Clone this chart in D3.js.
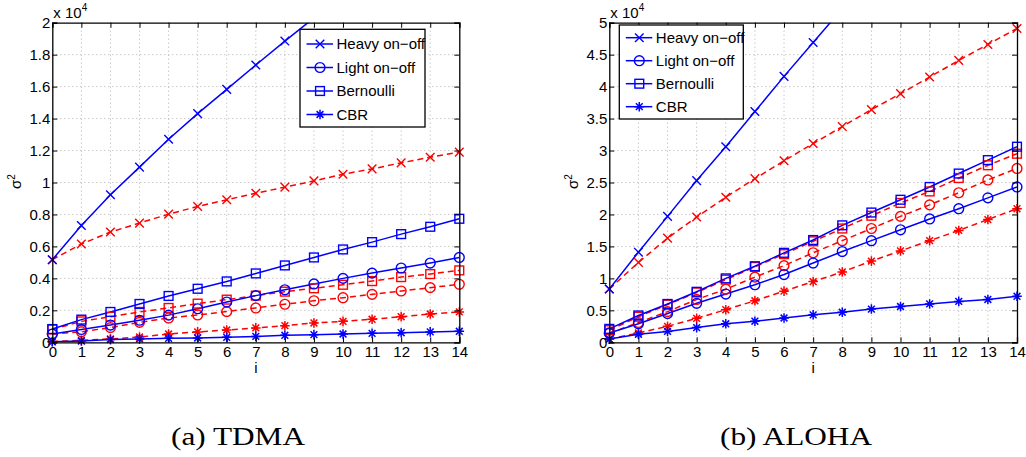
<!DOCTYPE html>
<html>
<head>
<meta charset="utf-8">
<script src="https://cdn.jsdelivr.net/npm/d3@7"></script>
<style>
  body { margin: 0; background: #fff; }
  svg text { font-family: "Liberation Sans", Arial, sans-serif; }
  .grid line { stroke: #b0b0b0; stroke-dasharray: 1,3; }
</style>
</head>
<body>
<div id="chart"></div>
<script>
// x values (i)
const steps = d3.range(0, 15);
const xTicks = d3.range(0, 15);

// (a) TDMA, values in units of 1e4
const tdmaTicks = [0, 0.2, 0.4, 0.6, 0.8, 1, 1.2, 1.4, 1.6, 1.8, 2];
const tdmaHeavy      = [0.517, 0.731, 0.923, 1.096, 1.271, 1.431, 1.583, 1.735, 1.885, 2.03, 2.18, 2.33, 2.48, 2.62, 2.77];
const tdmaHeavyRed   = [0.517, 0.615, 0.690, 0.746, 0.802, 0.850, 0.892, 0.933, 0.971, 1.010, 1.052, 1.085, 1.123, 1.158, 1.190];
const tdmaLight      = [0.052, 0.080, 0.108, 0.138, 0.170, 0.210, 0.252, 0.292, 0.329, 0.365, 0.400, 0.433, 0.465, 0.496, 0.531];
const tdmaLightRed   = [0.052, 0.066, 0.092, 0.125, 0.152, 0.171, 0.192, 0.215, 0.238, 0.260, 0.279, 0.300, 0.321, 0.342, 0.363];
const tdmaBern       = [0.083, 0.142, 0.190, 0.240, 0.290, 0.335, 0.381, 0.431, 0.481, 0.531, 0.581, 0.627, 0.677, 0.723, 0.773];
const tdmaBernRed    = [0.080, 0.131, 0.160, 0.190, 0.215, 0.242, 0.267, 0.292, 0.317, 0.338, 0.360, 0.383, 0.408, 0.427, 0.450];
const tdmaCbr        = [0.003, 0.008, 0.017, 0.021, 0.025, 0.027, 0.031, 0.037, 0.044, 0.048, 0.052, 0.056, 0.060, 0.065, 0.069];
const tdmaCbrRed     = [0.005, 0.012, 0.021, 0.033, 0.052, 0.065, 0.077, 0.090, 0.104, 0.121, 0.131, 0.144, 0.160, 0.177, 0.190];

// (b) ALOHA, values in units of 1e4
const alohaTicks = [0, 0.5, 1, 1.5, 2, 2.5, 3, 3.5, 4, 4.5, 5];
const alohaHeavy     = [0.833, 1.41, 1.97, 2.53, 3.06, 3.61, 4.16, 4.69, 5.22, 5.75, 6.28, 6.80, 7.33, 7.86, 8.39];
const alohaHeavyRed  = [0.833, 1.25, 1.63, 1.96, 2.27, 2.56, 2.84, 3.11, 3.375, 3.64, 3.89, 4.15, 4.41, 4.66, 4.91];
const alohaLight     = [0.146, 0.29, 0.45, 0.61, 0.755, 0.90, 1.06, 1.24, 1.42, 1.59, 1.76, 1.93, 2.09, 2.26, 2.43];
const alohaLightRed  = [0.140, 0.31, 0.48, 0.67, 0.83, 1.02, 1.20, 1.40, 1.59, 1.78, 1.97, 2.15, 2.34, 2.54, 2.72];
const alohaBern      = [0.21, 0.42, 0.60, 0.79, 1.00, 1.19, 1.40, 1.60, 1.83, 2.03, 2.23, 2.43, 2.64, 2.85, 3.06];
const alohaBernRed   = [0.19, 0.40, 0.59, 0.78, 0.98, 1.18, 1.38, 1.58, 1.78, 1.98, 2.18, 2.36, 2.57, 2.77, 2.95];
const alohaCbr       = [0.05, 0.125, 0.17, 0.23, 0.29, 0.33, 0.38, 0.43, 0.47, 0.52, 0.56, 0.60, 0.64, 0.67, 0.72];
const alohaCbrRed    = [0.05, 0.146, 0.25, 0.375, 0.51, 0.65, 0.80, 0.95, 1.10, 1.27, 1.43, 1.59, 1.75, 1.92, 2.09];

const legendNames = ["Heavy on\u2212off", "Light on\u2212off", "Bernoulli", "CBR"];
const markers = ["x", "o", "s", "*"];
const BLUE = "#0000ff", RED = "#ff0000";
const FS = 15;

const W = 1026, H = 457;
const svg = d3.select("#chart").append("svg").attr("width", W).attr("height", H);

function marker(g, type, x, y, color) {
  if (type === "x") {
    const r = 4.3;
    g.append("path").attr("d", `M${x-r},${y-r}L${x+r},${y+r}M${x-r},${y+r}L${x+r},${y-r}`)
      .attr("stroke", color).attr("stroke-width", 1.4).attr("fill", "none");
  } else if (type === "o") {
    g.append("circle").attr("cx", x).attr("cy", y).attr("r", 4.9)
      .attr("stroke", color).attr("stroke-width", 1.4).attr("fill", "none");
  } else if (type === "s") {
    g.append("rect").attr("x", x-4.4).attr("y", y-4.4).attr("width", 8.8).attr("height", 8.8)
      .attr("stroke", color).attr("stroke-width", 1.4).attr("fill", "none");
  } else {
    const r = 4.8;
    let d = "";
    for (let k = 0; k < 4; k++) {
      const a = k * Math.PI / 4;
      d += `M${x - r*Math.cos(a)},${y - r*Math.sin(a)}L${x + r*Math.cos(a)},${y + r*Math.sin(a)}`;
    }
    g.append("path").attr("d", d).attr("stroke", color).attr("stroke-width", 1.5).attr("fill", "none");
  }
}

function panel(o) {
  const { left, right, top, bottom } = o;
  const g = svg.append("g");
  const x = d3.scaleLinear().domain([0, 14]).range([left, right]);
  const y = d3.scaleLinear().domain([0, o.ymax]).range([bottom, top]);

  const clipId = "clip" + o.id;
  svg.append("clipPath").attr("id", clipId).append("rect")
    .attr("x", left).attr("y", top).attr("width", right - left).attr("height", bottom - top);

  // grid
  const grid = g.append("g").attr("class", "grid");
  grid.selectAll(".gx").data(xTicks.slice(1, -1)).enter().append("line")
    .attr("x1", d => x(d)).attr("x2", d => x(d)).attr("y1", top).attr("y2", bottom);
  grid.selectAll(".gy").data(o.ticks.slice(1, -1)).enter().append("line")
    .attr("y1", d => y(d)).attr("y2", d => y(d)).attr("x1", left).attr("x2", right);

  // series: lines clipped to the axes, markers drawn only inside the y range
  const lines = g.append("g").attr("clip-path", `url(#${clipId})`);
  const marks = g.append("g");
  const line = d3.line().x((d, i) => x(steps[i])).y(d => y(d));
  o.series.forEach(s => {
    lines.append("path").datum(s.values).attr("d", line)
      .attr("fill", "none").attr("stroke", s.color).attr("stroke-width", 1.5)
      .attr("stroke-dasharray", s.dashed ? "6,4" : null);
    s.values.forEach((v, i) => {
      if (v <= o.ymax) marker(marks, s.marker, x(steps[i]), y(v), s.color);
    });
  });

  // axes: ticks inward on all four sides
  const tl = 5;
  const ax = g.append("g");
  ax.append("g").attr("transform", `translate(0,${bottom})`)
    .call(d3.axisBottom(x).tickValues(xTicks).tickSize(-tl).tickPadding(4).tickFormat(d3.format("d")));
  ax.append("g").attr("transform", `translate(0,${top})`)
    .call(d3.axisTop(x).tickValues(xTicks).tickSize(-tl).tickFormat(""));
  ax.append("g").attr("transform", `translate(${left},0)`)
    .call(d3.axisLeft(y).tickValues(o.ticks).tickSize(-tl).tickPadding(2).tickFormat(d => d3.format("")(+d.toFixed(1))));
  ax.append("g").attr("transform", `translate(${right},0)`)
    .call(d3.axisRight(y).tickValues(o.ticks).tickSize(-tl).tickFormat(""));
  ax.selectAll("g").attr("font-size", FS).attr("font-family", "Liberation Sans, Arial, sans-serif");
  ax.selectAll(".domain").attr("stroke", "#000").attr("stroke-width", 1.3);
  ax.selectAll("text").attr("fill", "#000");

  // exponent
  const ex = g.append("text").attr("x", left + 1).attr("y", top - 5).attr("font-size", FS);
  ex.append("tspan").text("x 10");
  ex.append("tspan").attr("font-size", 10).attr("dy", -7).text("4");

  // labels
  g.append("text").attr("x", (left + right) / 2).attr("y", bottom + 31)
    .attr("text-anchor", "middle").attr("font-size", FS).text("i");
  const yl = g.append("text").attr("transform", `translate(${left - 31},${(top + bottom) / 2 - 1}) rotate(-90)`)
    .attr("text-anchor", "middle").attr("font-size", FS);
  yl.append("tspan").text("\u03c3");
  yl.append("tspan").attr("font-size", 10).attr("dy", -6).text("2");

  // legend
  const lg = g.append("g").attr("transform", `translate(${o.legend[0]},${o.legend[1]})`);
  lg.append("rect").attr("width", o.legend[2]).attr("height", o.legend[3])
    .attr("fill", "#fff").attr("stroke", "#000").attr("stroke-width", 1.3);
  legendNames.forEach((name, k) => {
    const yy = o.legendFirst + k * o.legendGap;
    lg.append("line").attr("x1", 6.5).attr("x2", 33).attr("y1", yy).attr("y2", yy)
      .attr("stroke", BLUE).attr("stroke-width", 1.5);
    marker(lg, markers[k], 20, yy, BLUE);
    lg.append("text").attr("x", 36.5).attr("y", yy + 5.5).attr("font-size", FS).text(name);
  });

  // caption
  svg.append("text").attr("x", o.caption[0]).attr("y", 445)
    .attr("text-anchor", "middle").attr("font-size", 25)
    .attr("textLength", o.caption[2]).attr("lengthAdjust", "spacingAndGlyphs")
    .style("font-family", "'Liberation Serif', 'DejaVu Serif', serif").text(o.caption[1]);
}

function mk(vals, k, red) {
  return { values: vals, marker: markers[k], color: red ? RED : BLUE, dashed: red };
}

panel({
  id: "a", left: 52.3, right: 459.3, top: 22.7, bottom: 342.3, ymax: 2, ticks: tdmaTicks,
  legend: [300, 29.3, 125, 97.7], legendFirst: 14.7, legendGap: 23.5, caption: [238, "(a) TDMA", 134],
  series: [
    mk(tdmaHeavyRed, 0, true), mk(tdmaLightRed, 1, true), mk(tdmaBernRed, 2, true), mk(tdmaCbrRed, 3, true),
    mk(tdmaHeavy, 0, false), mk(tdmaLight, 1, false), mk(tdmaBern, 2, false), mk(tdmaCbr, 3, false)
  ]
});

panel({
  id: "b", left: 609.3, right: 1017, top: 22.7, bottom: 342.3, ymax: 5, ticks: alohaTicks,
  legend: [619.3, 25, 124, 94], legendFirst: 12.7, legendGap: 23, caption: [796, "(b) ALOHA", 152],
  series: [
    mk(alohaHeavyRed, 0, true), mk(alohaLightRed, 1, true), mk(alohaBernRed, 2, true), mk(alohaCbrRed, 3, true),
    mk(alohaHeavy, 0, false), mk(alohaLight, 1, false), mk(alohaBern, 2, false), mk(alohaCbr, 3, false)
  ]
});
</script>
</body>
</html>
